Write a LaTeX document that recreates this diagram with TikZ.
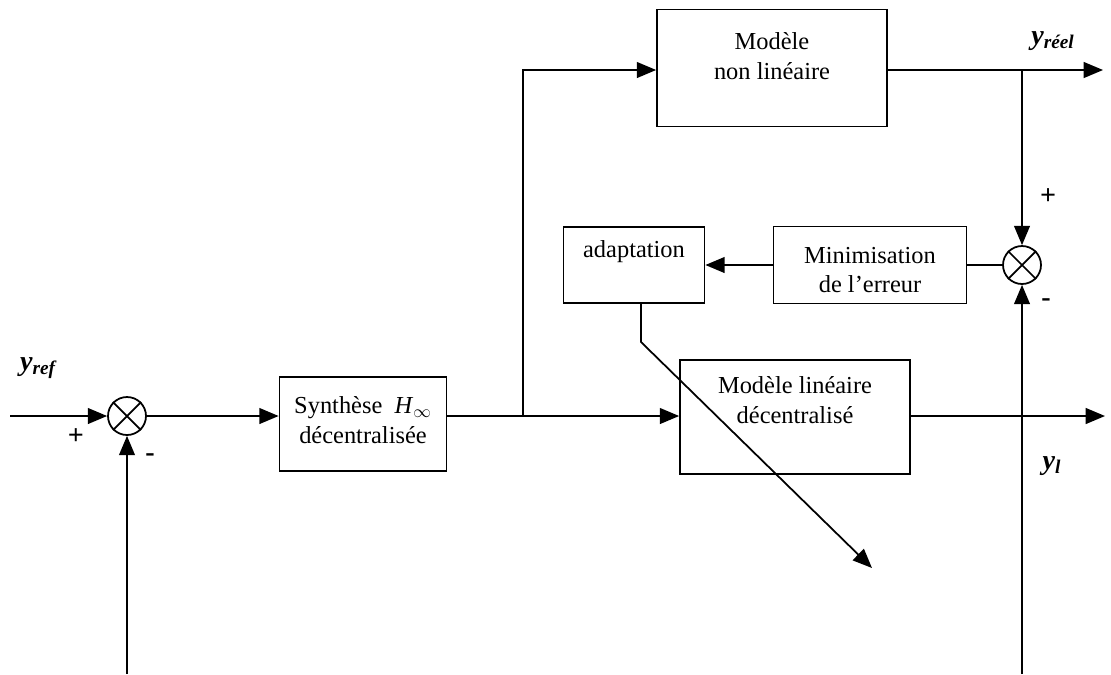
\documentclass[tikz,border=0pt]{standalone}
\usepackage{fontspec}
\setmainfont{Liberation Serif}
\usetikzlibrary{arrows.meta}
\begin{document}
\begin{tikzpicture}[x=0.02cm,y=-0.02cm,
  line width=1pt,
  arr/.style={-{Triangle[length=11pt,width=9pt]}},
  blk/.style={draw,line width=1pt,inner sep=0pt},
  txt/.style={font=\fontsize{13.9}{17}\selectfont,align=center,inner sep=0pt},
  sumj/.style={draw,circle,minimum size=0.76cm,inner sep=0pt,line width=1pt},
  lbl/.style={font=\fontsize{16}{18}\selectfont\bfseries\itshape,inner sep=0pt},
  sgn/.style={font=\fontsize{16}{18}\selectfont\bfseries,inner sep=0pt}]
\useasboundingbox (0,0) rectangle (1111,674);
% junctions
\node[sumj] (s1) at (127,416) {};
\draw (s1.north west) -- (s1.south east) (s1.north east) -- (s1.south west);
\node[sumj] (s2) at (1022,265) {};
\draw (s2.north west) -- (s2.south east) (s2.north east) -- (s2.south west);
% blocks
\node[blk,minimum width=3.34cm,minimum height=1.88cm] (synth) at (363,424) {};
\node[txt] (synthT) at (363,420) {Synthèse\ \ \textit{H}\textsubscript{$\infty$}\\décentralisée};
\node[blk,minimum width=4.6cm,minimum height=2.34cm] (nl) at (772,68) {};
\node[txt] (nlT) at (772,56) {Modèle\\non linéaire};
\node[blk,minimum width=4.6cm,minimum height=2.28cm] (lin) at (795,417) {};
\node[txt] (linT) at (795,400) {Modèle linéaire\\décentralisé};
\node[blk,minimum width=3.86cm,minimum height=1.54cm] (mini) at (870,265) {};
\node[txt] (miniT) at (870,270) {Minimisation\\de l'erreur};
\node[blk,minimum width=2.82cm,minimum height=1.52cm] (adapt) at (634,265) {};
\node[txt] (adaptT) at (634,252) {adaptation};
% coordinates
\coordinate (in) at (10,416);
\coordinate (br) at (523,416);
\coordinate (brtop) at (523,70);
\coordinate (out1) at (1103,70);
\coordinate (j1) at (1022,70);
\coordinate (out2) at (1105,416);
\coordinate (fb1) at (127,674);
\coordinate (fb2) at (1022,674);
\coordinate (ad1) at (641,342);
\coordinate (adend) at (872,568);
% connectors
\draw[arr] (in) -- (s1.west);
\draw[arr] (s1.east) -- (synth.west |- s1);
\draw (synth.east |- br) -- (br);
\draw[arr] (br) -- (lin.west |- br);
\draw[arr] (br) -- (brtop) -- (nl.west |- brtop);
\draw[arr] (nl.east |- out1) -- (out1);
\draw[arr] (j1) -- (s2.north);
\draw (s2.west) -- (mini.east |- s2);
\draw[arr] (mini.west) -- (adapt.east);
\draw[arr] (adapt.south -| ad1) -- (ad1) -- (adend);
\draw[arr] (lin.east |- out2) -- (out2);
\draw[arr] (fb1) -- (s1.south);
\draw[arr] (fb2) -- (s2.south);
% labels
\node[lbl] (yref) at (38,368) {y\textsubscript{\fontsize{11}{12}\selectfont ref}};
\node[lbl] (yreel) at (1053,41) {y\textsubscript{\fontsize{11}{12}\selectfont réel}};
\node[lbl] (yl) at (1052,466) {y\textsubscript{\fontsize{11}{12}\selectfont l}};
\node[sgn] (p1) at (76,437) {+};
\node[sgn] (m1) at (150,458) {-};
\node[sgn] (p2) at (1048,197) {+};
\node[sgn] (m2) at (1046,303) {-};
\end{tikzpicture}
\end{document}
